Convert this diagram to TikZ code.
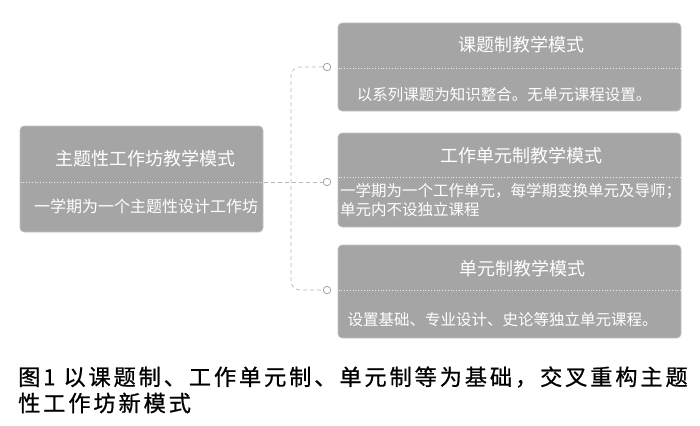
\documentclass[tikz,border=0pt]{standalone}
\usepackage{fontspec}
\setmainfont{Noto Sans CJK SC}
\definecolor{boxfill}{HTML}{A5A5A5}
\definecolor{boxedge}{HTML}{C4C4C4}
\definecolor{conncol}{HTML}{B8B8B8}
\tikzset{
  panel/.style={draw=boxedge, line width=0.6pt, fill=boxfill, rounded corners=4pt, inner sep=0pt},
  sepline/.style={draw=white!92!black, line width=0.8pt, dotted},
  ttl/.style={text=white, font=\fontsize{18}{22}\selectfont, inner sep=0pt},
  bdy/.style={text=white, font=\fontsize{15.5}{19}\selectfont, inner sep=0pt},
  conn/.style={draw=conncol, line width=0.7pt, dash pattern=on 4pt off 3pt},
  knob/.style={circle, draw=gray!80, fill=white, line width=0.7pt, minimum size=7.5pt, inner sep=0pt},
  captext/.style={text=black, font=\fontsize{22.2}{26}\selectfont\addfontfeatures{LetterSpace=13,FakeBold=0.8}, inner sep=0pt, anchor=west}
}
\begin{document}
\begin{tikzpicture}[x=1pt,y=-1pt]
\useasboundingbox (0,0) rectangle (700,425);
% boxes
\node[panel, minimum width=243pt, minimum height=106pt] (L) at (141.5,179) {};
\node[panel, minimum width=343pt, minimum height=88pt] (B1) at (509.5,67) {};
\node[panel, minimum width=343pt, minimum height=94pt] (B2) at (509.5,180) {};
\node[panel, minimum width=343pt, minimum height=93pt] (B3) at (509.5,291.5) {};
% separators
\draw[sepline] (20.5,182) -- (262.5,182);
\draw[sepline] (338.5,68) -- (680.5,68);
\draw[sepline] (338.5,177) -- (680.5,177);
\draw[sepline] (338.5,290) -- (680.5,290);
% texts
\node[ttl] (Lt) at (145,159) {主题性工作坊教学模式};
\node[bdy, font=\fontsize{16}{19}\selectfont] (Lb) at (146,206) {一学期为一个主题性设计工作坊};
\node[ttl] (B1t) at (521,45) {课题制教学模式};
\node[bdy] (B1b) at (504,95) {以系列课题为知识整合。无单元课程设置。};
\node[ttl] (B2t) at (521,156) {工作单元制教学模式};
\node[bdy, anchor=west, align=left] (B2b) at (340,200) {一学期为一个工作单元，每学期变换单元及导师；\\单元内不设独立课程};
\node[ttl] (B3t) at (522,269) {单元制教学模式};
\node[bdy] (B3b) at (502.5,320) {设置基础、专业设计、史论等独立单元课程。};
% connectors
\node[knob] (c1) at (327,67) {};
\node[knob] (c2) at (327,182) {};
\node[knob] (c3) at (327,290) {};
\coordinate (Lr) at (263.5,182);
\coordinate (trunk) at (291,182);
\draw[conn] (Lr) -- (c2.west);
\draw[conn, rounded corners=9pt] (c1.west) -- (c1.west -| trunk) -- (c3.west -| trunk) -- (c3.west);
% caption
\node[captext] (cap1) at (18,377) {图1 以课题制、工作单元制、单元制等为基础，交叉重构主题};
\node[captext] (cap2) at (18,403) {性工作坊新模式};
\end{tikzpicture}
\end{document}
